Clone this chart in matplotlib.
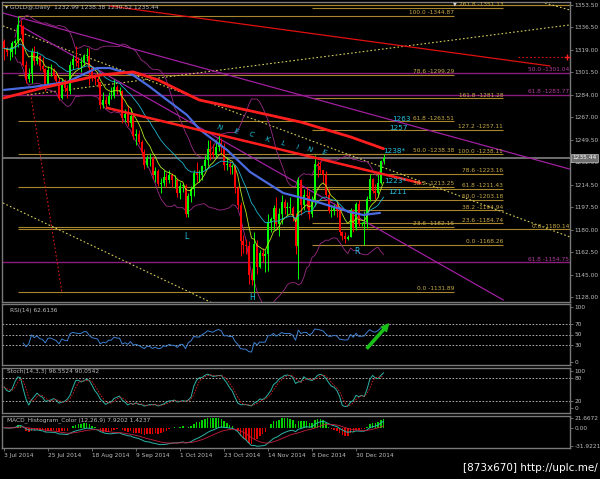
import numpy as np
import pandas as pd
import matplotlib
matplotlib.use("Agg")
import matplotlib.pyplot as plt

# ===============================
# GOLD@ daily candles, 3 Jul 2014 .. 13 Jan 2015
# ===============================
closes = [1320, 1317, 1317, 1324, 1326, 1338, 1337, 1307, 1296, 1300,
          1317, 1310, 1314, 1306, 1304, 1292, 1303, 1303, 1299, 1295,
          1282, 1294, 1289, 1287, 1307, 1312, 1310, 1309, 1309, 1314,
          1314, 1305, 1298, 1296, 1294, 1276, 1280, 1277, 1283, 1283,
          1290, 1287, 1287, 1266, 1269, 1262, 1268, 1252, 1254, 1248,
          1240, 1230, 1235, 1235, 1222, 1225, 1215, 1216, 1221, 1218,
          1222, 1218, 1218, 1208, 1214, 1214, 1192, 1206, 1211, 1224,
          1222, 1222, 1229, 1234, 1242, 1240, 1238, 1244, 1247, 1244,
          1230, 1231, 1228, 1229, 1212, 1199, 1171, 1168, 1167, 1145,
          1141, 1169, 1151, 1162, 1160, 1161, 1186, 1188, 1197, 1184,
          1192, 1201, 1197, 1197, 1197, 1190, 1167, 1218, 1199, 1207,
          1206, 1192, 1203, 1231, 1229, 1226, 1222, 1207, 1194, 1194,
          1198, 1195, 1178, 1175, 1173, 1174, 1195, 1181, 1200, 1184,
          1185, 1186, 1204, 1219, 1210, 1208, 1216, 1233, 1235.44]
highs = [1327, 1321, 1321, 1326, 1327, 1345, 1342, 1338, 1310, 1305,
         1320, 1322, 1318, 1315, 1313, 1305, 1306, 1308, 1305, 1302,
         1298, 1297, 1296, 1292, 1310, 1315, 1322, 1313, 1313, 1316,
         1320, 1320, 1306, 1300, 1299, 1294, 1286, 1283, 1286, 1290,
         1296, 1292, 1290, 1288, 1273, 1276, 1274, 1269, 1258, 1257,
         1249, 1242, 1238, 1239, 1237, 1228, 1227, 1220, 1226, 1224,
         1226, 1224, 1222, 1220, 1217, 1216, 1215, 1208, 1214, 1226,
         1232, 1226, 1230, 1238, 1249, 1249, 1246, 1248, 1255, 1251,
         1247, 1236, 1233, 1231, 1230, 1214, 1201, 1176, 1173, 1171,
         1150, 1178, 1172, 1164, 1166, 1164, 1192, 1190, 1199, 1205,
         1197, 1207, 1204, 1201, 1205, 1198, 1193, 1221, 1219, 1211,
         1213, 1210, 1206, 1238, 1233, 1233, 1226, 1225, 1212, 1198,
         1200, 1202, 1196, 1179, 1178, 1176, 1197, 1196, 1201, 1203,
         1186, 1194, 1206, 1223, 1220, 1215, 1223, 1234, 1238.38]
lows = [1311, 1314, 1311, 1313, 1316, 1321, 1331, 1306, 1293, 1294,
        1293, 1307, 1308, 1303, 1302, 1287, 1291, 1299, 1296, 1292,
        1280, 1281, 1286, 1282, 1285, 1304, 1306, 1305, 1302, 1306,
        1310, 1292, 1295, 1292, 1290, 1273, 1274, 1275, 1276, 1281,
        1282, 1285, 1284, 1262, 1263, 1260, 1259, 1250, 1245, 1246,
        1237, 1227, 1228, 1229, 1219, 1217, 1214, 1208, 1214, 1213,
        1216, 1213, 1212, 1205, 1204, 1209, 1190, 1190, 1201, 1206,
        1217, 1217, 1218, 1226, 1229, 1234, 1235, 1236, 1241, 1238,
        1226, 1226, 1223, 1223, 1208, 1196, 1160, 1162, 1161, 1138,
        1137, 1132, 1146, 1150, 1155, 1147, 1148, 1178, 1180, 1183,
        1175, 1184, 1192, 1191, 1193, 1187, 1161, 1142, 1191, 1195,
        1197, 1188, 1190, 1198, 1221, 1224, 1215, 1205, 1193, 1190,
        1191, 1190, 1176, 1172, 1170, 1172, 1174, 1178, 1180, 1183,
        1183, 1168, 1181, 1202, 1208, 1204, 1205, 1215, 1230.52]
first_open = 1326.0
last_open = 1232.99

date_labels = ["3 Jul 2014", "25 Jul 2014", "18 Aug 2014", "9 Sep 2014", "1 Oct 2014",
               "23 Oct 2014", "14 Nov 2014", "8 Dec 2014", "30 Dec 2014"]

# slow moving averages (bar index, price)
ma_red_idx = [0, 14, 35, 47, 56, 71, 89, 108, 126, 138]
ma_red_val = [1281.7, 1289.4, 1299.4, 1301.8, 1295.6, 1280.1, 1272.0, 1263.0, 1251.6, 1242.5]
ma_blue_idx = [0, 10.5, 22.9, 33.8, 38.5, 46.9, 53.1, 59.3, 66.5, 71.3, 81.1, 89.5, 101.5, 113.8, 125.8, 130.5, 136.7]
ma_blue_val = [1287.9, 1290.2, 1294.0, 1304.8, 1304.8, 1299.4, 1290.2, 1280.1, 1268.6, 1257.0,
               1241.5, 1224.5, 1208.3, 1201.4, 1193.7, 1191.3, 1192.9]

# fibonacci objects
fib_a_pct = [100.0, 78.6, 61.8, 50.0, 38.2, 23.6, 0.0]
fib_a_price = [1344.87, 1299.29, 1263.51, 1238.38, 1213.25, 1182.16, 1131.89]
fib_b_pct = [261.8, 161.8, 127.2, 100.0, 78.6, 61.8, 50.0, 38.2, 23.6, 0.0]
fib_b_price = [1351.13, 1281.28, 1257.11, 1238.11, 1223.16, 1211.43, 1203.18, 1194.94, 1184.74, 1168.26]
fib_c_pct = [50.0, 61.8, 61.8]
fib_c_price = [1301.04, 1283.77, 1154.75]
fib_d_pct = [0.0]
fib_d_price = [1180.14]
top_line_price = 1353.5
alert_price = 1313.3

# trend lines (bar index, price) pairs
yellow_upper = [(-0.4, 1337.3), (205.8, 1174.3)]
yellow_lower = [(-0.4, 1200.6), (80.0, 1119.0)]
yellow_rise = [(8.4, 1284.0), (205.8, 1338.1)]
yellow_corner = [(196.7, 1355.0), (205.8, 1349.6)]
red_thin = [(38.5, 1352.7), (198.5, 1306.4)]
magenta_upper = [(-0.4, 1347.3), (205.8, 1226.7)]
magenta_lower = [(5.8, 1337.6), (181.5, 1125.7)]
neckline = [(37.5, 1274.0), (151.3, 1216.0)]
red_dotted = [(9.45, 1287.9), (21.1, 1131.1)]

y_ticks_main = [1353.50, 1336.50, 1319.00, 1301.50, 1284.00, 1267.00, 1249.50,
                1232.00, 1214.50, 1197.50, 1180.00, 1162.50, 1145.00, 1128.00]

# indicator captions as shown on the chart
rsi_caption = "RSI(14) 62.6136"
stoch_caption = "Stoch(14,3,3) 96.5524 90.0542"
macd_caption = "MACD_Histogram_Color (12,26,9) 7.9202 1.4237"
macd_top_label, macd_bottom_label = "21.6672", "-31.9221"

# ===============================
# indicators from the candles
# ===============================
c = pd.Series(closes, dtype=float)
h = pd.Series(highs, dtype=float)
l = pd.Series(lows, dtype=float)
o = pd.Series([first_open] + closes[:-1], dtype=float)
o.iloc[-1] = last_open
n = len(c)
x = np.arange(n)

ema_fast = c.ewm(span=8, adjust=False).mean()
ema_mid = c.ewm(span=21, adjust=False).mean()
bb_mid = c.rolling(20, min_periods=5).mean()
bb_sd = c.rolling(20, min_periods=5).std(ddof=0)

d = c.diff()
gain = d.clip(lower=0).ewm(alpha=1 / 14, adjust=True, min_periods=7).mean()
loss = (-d.clip(upper=0)).ewm(alpha=1 / 14, adjust=True, min_periods=7).mean()
rsi = 100 - 100 / (1 + gain / loss)

ll = l.rolling(14, min_periods=1).min()
hh = h.rolling(14, min_periods=1).max()
k = 100 * (c - ll).rolling(3, min_periods=1).sum() / (hh - ll).rolling(3, min_periods=1).sum()
dline = k.rolling(3, min_periods=1).mean()

macd = c.ewm(span=12, adjust=False).mean() - c.ewm(span=26, adjust=False).mean()
sig = macd.ewm(span=9, adjust=False).mean()
hist = 2 * (macd - sig)

# ===============================
# figure
# ===============================
W, H = 600, 479
fig = plt.figure(figsize=(6.0, 4.79), dpi=100, facecolor="black")
grey = "#bdbdbd"
frame = "#7a7a7a"


def panel(top, bottom):
    a = fig.add_axes([2 / W, 1 - bottom / H, 568 / W, (bottom - top) / H])
    a.set_facecolor("black")
    for s in a.spines.values():
        s.set_color(frame)
        s.set_linewidth(1.0)
    a.yaxis.tick_right()
    a.tick_params(axis="y", colors=frame, labelcolor=grey, labelsize=4.2, length=2, width=0.6, pad=1.5)
    a.tick_params(axis="x", bottom=False, labelbottom=False)
    a.set_xlim(-0.73, 205.8)
    return a


ax = panel(2, 302)
ax_rsi = panel(304, 365)
ax_st = panel(368, 413)
ax_m = panel(416, 448)

# ---- main panel ----
ax.set_ylim(1124.1, 1355.8)
ax.set_yticks(y_ticks_main)
ax.set_yticklabels([f"{v:.2f}" for v in y_ticks_main])

fib_line = "#a8862e"
fib_txt = "#c8aa48"
mag_line = "#8a1c7c"
mag_txt = "#b43ca0"

ax.hlines(top_line_price, -0.73, 205.8, color=fib_line, lw=0.9, zorder=1)
ax.hlines(fib_a_price, 5.1, 163.6, color=fib_line, lw=0.8, zorder=1)
for p, v in zip(fib_a_pct, fib_a_price):
    ax.text(163.6, v + 0.6, f"{p:.1f} -{v:.2f}", color=fib_txt, fontsize=4.2, ha="right", va="bottom", zorder=6)
ax.hlines(fib_b_price, 112, 181.5, color=fib_line, lw=0.8, zorder=1)
for p, v in zip(fib_b_pct, fib_b_price):
    ax.text(181.5, v + 0.6, f"{p:.1f} -{v:.2f}", color=fib_txt, fontsize=4.2, ha="right", va="bottom", zorder=6)
ax.hlines(fib_c_price, -0.73, 205.8, color=mag_line, lw=1.0, zorder=1)
for p, v in zip(fib_c_pct, fib_c_price):
    ax.text(205.5, v + 0.6, f"{p:.1f} -{v:.2f}", color=mag_txt, fontsize=4.2, ha="right", va="bottom", zorder=6)
ax.hlines(fib_d_price, 5.1, 205.8, color=fib_line, lw=0.8, zorder=1)
for p, v in zip(fib_d_pct, fib_d_price):
    ax.text(205.5, v + 0.6, f"{p:.1f} -{v:.2f}", color=fib_txt, fontsize=4.2, ha="right", va="bottom", zorder=6)

# current price line
ax.axhline(closes[-1], color="#8c8c8c", lw=1.1, zorder=1)
ax.text(1.004, closes[-1], f"{closes[-1]:.2f}", transform=ax.get_yaxis_transform(), fontsize=4.2,
        color="white", ha="left", va="center", zorder=10,
        bbox=dict(boxstyle="square,pad=0.25", fc="#6e6e6e", ec="#bdbdbd", lw=0.5), clip_on=False)

# trend lines
dot = (0, (1.5, 2.0))
for seg in [yellow_upper, yellow_lower, yellow_rise, yellow_corner]:
    ax.plot(*zip(*seg), color="#d6cc5a", lw=0.8, ls=dot, zorder=2)
ax.plot(*zip(*red_thin), color="#e01010", lw=0.9, zorder=2)
ax.plot(*zip(*red_dotted), color="#d01818", lw=0.8, ls=dot, zorder=2)
ax.plot([187, 205], [alert_price, alert_price], color="#e01010", lw=0.8, ls=dot, zorder=2)
ax.plot([204.7], [alert_price], marker="+", color="#ff2020", ms=4, mew=1, zorder=3)
ax.plot(*zip(*magenta_upper), color="#a020a0", lw=0.9, zorder=2)
ax.plot(*zip(*magenta_lower), color="#a020a0", lw=0.9, zorder=2)

# bollinger bands
ax.plot(x, bb_mid + 2 * bb_sd, color="#9a2a86", lw=0.6, zorder=3)
ax.plot(x, bb_mid - 2 * bb_sd, color="#9a2a86", lw=0.6, zorder=3)

# candles
up = (c >= o).values
col = np.where(up, "#00ff00", "#ff0000")
ax.vlines(x, l, h, colors=col, lw=0.7, zorder=4)
body = np.maximum(np.abs(c - o).values, 0.5)
ax.bar(x, body, bottom=np.minimum(o, c).values, width=0.62, color=col, lw=0, zorder=4)

# moving averages
ax.plot(x, ema_fast, color="#b4e61e", lw=0.6, zorder=5)
ax.plot(x, ema_mid, color="#1eb4d2", lw=0.6, zorder=5)
ax.plot(ma_blue_idx, ma_blue_val, color="#4a6be0", lw=1.6, zorder=5, solid_capstyle="round")
ax.plot(ma_red_idx, ma_red_val, color="#ff1e1e", lw=2.0, zorder=5, solid_capstyle="round")
ax.plot(*zip(*neckline), color="#ff1e1e", lw=1.8, zorder=5)

# annotations
cyan = "#22c4e4"
for txt, xi, yv in [("1263", 141.1, 1265.5), ("1257", 140.0, 1258.5), ("1238*", 137.8, 1240.5),
                    ("1223*", 138.2, 1217.8), ("1211", 139.6, 1209.2)]:
    ax.text(xi, yv, txt, color=cyan, fontsize=5.2, ha="left", va="center", zorder=7)
for ch, xi, yv in zip("NECKLINE", [78.5, 84.4, 90.2, 96.0, 101.5, 106.5, 111.3, 116.7],
                      [1258.5, 1255.4, 1253.1, 1249.3, 1246.9, 1243.8, 1241.5, 1239.2]):
    ax.text(xi, yv, ch, color=cyan, fontsize=5.2, ha="center", va="center", rotation=-12,
            style="italic", zorder=7)
for ch, xi, yv in [("L", 66.2, 1174.4), ("H", 90.2, 1127.8), ("R", 128.4, 1162.8)]:
    ax.text(xi, yv, ch, color=cyan, fontsize=5.5, ha="center", va="center", zorder=7)

# ---- RSI ----
ax_rsi.set_ylim(-5.5, 105.5)
ax_rsi.set_yticks([100, 70, 50, 30, 0])
ax_rsi.set_yticklabels(["100", "70", "50", "30", "0"])
for lv in [70, 50, 30]:
    ax_rsi.axhline(lv, color="#c8c8c8", lw=0.6, ls=(0, (2, 2)))
ax_rsi.plot(x, rsi, color="#3c7fd0", lw=0.7)
ax_rsi.annotate("", xy=(139.8, 69), xytext=(132.0, 25),
                arrowprops=dict(facecolor="#18c018", edgecolor="#18c018", width=1.6, headwidth=5, headlength=5))
ax_rsi.text(2, 99, rsi_caption, color=grey, fontsize=4.2, va="top")

# ---- Stochastic ----
ax_st.set_ylim(-13.4, 107.2)
ax_st.set_yticks([100, 80, 20, 0])
ax_st.set_yticklabels(["100", "80", "20", "0"])
for lv in [80, 20]:
    ax_st.axhline(lv, color="#c8c8c8", lw=0.6, ls=(0, (2, 2)))
ax_st.plot(x, k, color="#2cb4a8", lw=0.7)
ax_st.plot(x, dline, color="#d82020", lw=0.6, ls=(0, (2, 1.5)))
ax_st.text(1, 104, stoch_caption, color=grey, fontsize=4.2, va="top")

# ---- MACD (scale fitted to the data, like the terminal does) ----
lo = min(hist.min(), macd.min())
hi = max(hist.max(), macd.max())
pad = 0.06 * (hi - lo)
ax_m.set_ylim(lo - pad, hi + pad)
ax_m.set_yticks([hi, 0.0, lo])
ax_m.set_yticklabels([macd_top_label, "0.00", macd_bottom_label])
hcol = np.where(hist >= 0, "#00d000", "#e00000")
ax_m.bar(x, hist, width=0.55, color=hcol, lw=0)
ax_m.plot(x, macd, color="#2cb4a8", lw=0.7)
ax_m.plot(x, sig, color="#c82040", lw=0.6)
ax_m.text(1, hi + pad * 0.5, macd_caption, color=grey, fontsize=4.2, va="top")
ax_m.tick_params(axis="x", bottom=True, labelbottom=True, colors=frame, labelcolor=grey,
                 labelsize=4.2, length=2, width=0.6, pad=1.5)
ax_m.set_xticks(range(0, 129, 16))
ax_m.set_xticklabels(date_labels, ha="left")

# header + watermark
fig.text(5 / W, 1 - 8 / H, "\u25be GOLD@,Daily  1232.99 1238.38 1230.52 1235.44",
         color=grey, fontsize=4.3, va="center", ha="left")
fig.text(455 / W, 1 - 4 / H, "\u25bc", color="#d0d0d0", fontsize=3.5, va="center", ha="center")
fig.text(598 / W, 1 - 468 / H, "[873x670] http://uplc.me/", color="white", fontsize=7.5,
         va="center", ha="right")

fig.savefig("out.png", dpi=100, facecolor="black")
